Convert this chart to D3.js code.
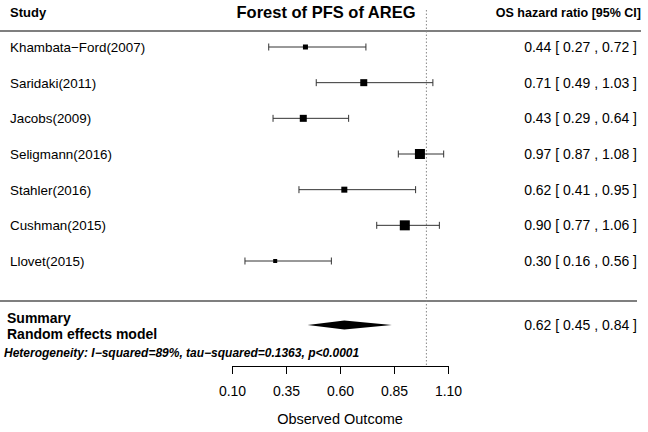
<!DOCTYPE html>
<html><head><meta charset="utf-8">
<script src="https://cdn.jsdelivr.net/npm/d3@7"></script>
<style>body{margin:0;background:#fff}svg{display:block}text{font-family:"Liberation Sans",Arial,sans-serif;fill:#000}</style>
</head><body><svg id="c" width="648" height="432"></svg>
<script>
const studies = ["Khambata−Ford(2007)","Saridaki(2011)","Jacobs(2009)","Seligmann(2016)","Stahler(2016)","Cushman(2015)","Llovet(2015)"];
const estimates = [0.44,0.71,0.43,0.97,0.62,0.90,0.30];
const lower = [0.27,0.49,0.29,0.87,0.41,0.77,0.16];
const upper = [0.72,1.03,0.64,1.08,0.95,1.06,0.56];
const weights = [5,7,7,10,6,10,4];
const summary = {est:0.62, lo:0.45, hi:0.84};
const ticks = [0.10,0.35,0.60,0.85,1.10];
const title = "Forest of PFS of AREG";
const hetText = "Heterogeneity: I−squared=89%, tau−squared=0.1363, p<0.0001";

const svg = d3.select("#c");
const x = d3.scaleLinear().domain([0.10,1.10]).range([232,448]);
const y = d3.scaleLinear().domain([0,6]).range([47,261]);
const f = d3.format(".2f");

// header
svg.append("text").attr("x",10).attr("y",17).attr("font-size",13).attr("font-weight","bold").text("Study");
svg.append("text").attr("x",326).attr("y",18).attr("font-size",16.5).attr("font-weight","bold").attr("text-anchor","middle").text(title);
svg.append("text").attr("x",641).attr("y",17).attr("font-size",12.5).attr("font-weight","bold").attr("text-anchor","end").text("OS hazard ratio [95% CI]");
svg.append("line").attr("x1",0).attr("x2",641).attr("y1",31).attr("y2",31).attr("stroke","#555").attr("stroke-width",1.5);
svg.append("line").attr("x1",0).attr("x2",637).attr("y1",301).attr("y2",301).attr("stroke","#555").attr("stroke-width",1.5);

// reference line
svg.append("line").attr("x1",x(1)).attr("x2",x(1)).attr("y1",10).attr("y2",366).attr("stroke","#888").attr("stroke-width",1).attr("stroke-dasharray","1.5,2");

const rows = svg.append("g").selectAll("g").data(studies).join("g");
rows.append("text").attr("x",10).attr("y",(d,i)=>y(i)+5).attr("font-size",13.4).text(d=>d);
rows.append("line").attr("x1",(d,i)=>x(lower[i])).attr("x2",(d,i)=>x(upper[i])).attr("y1",(d,i)=>y(i)).attr("y2",(d,i)=>y(i)).attr("stroke","#333").attr("stroke-width",1);
rows.append("line").attr("x1",(d,i)=>x(lower[i])).attr("x2",(d,i)=>x(lower[i])).attr("y1",(d,i)=>y(i)-3.5).attr("y2",(d,i)=>y(i)+3.5).attr("stroke","#333").attr("stroke-width",1);
rows.append("line").attr("x1",(d,i)=>x(upper[i])).attr("x2",(d,i)=>x(upper[i])).attr("y1",(d,i)=>y(i)-3.5).attr("y2",(d,i)=>y(i)+3.5).attr("stroke","#333").attr("stroke-width",1);
rows.append("rect").attr("x",(d,i)=>x(estimates[i])-weights[i]/2).attr("y",(d,i)=>y(i)-weights[i]/2)
  .attr("width",(d,i)=>weights[i]).attr("height",(d,i)=>weights[i]).attr("fill","#000");
rows.append("text").attr("x",637).attr("y",(d,i)=>y(i)+5).attr("font-size",14).attr("text-anchor","end")
  .text((d,i)=>`${f(estimates[i])} [ ${f(lower[i])} , ${f(upper[i])} ]`);

// summary
svg.append("text").attr("x",7).attr("y",323).attr("font-size",14).attr("font-weight","bold").text("Summary");
svg.append("text").attr("x",7).attr("y",339).attr("font-size",14).attr("font-weight","bold").text("Random effects model");
const sy = 325;
svg.append("path").attr("d",`M${x(summary.lo)},${sy}L${x(summary.est)},${sy-4.5}L${x(summary.hi)},${sy}L${x(summary.est)},${sy+4.5}Z`).attr("fill","#000");
svg.append("text").attr("x",637).attr("y",sy+5).attr("font-size",14).attr("text-anchor","end")
  .text(`${f(summary.est)} [ ${f(summary.lo)} , ${f(summary.hi)} ]`);
svg.append("text").attr("x",4).attr("y",357).attr("font-size",12).attr("font-weight","bold").attr("font-style","italic").text(hetText);

// axis
const ax = svg.append("g").attr("transform","translate(0,366)")
  .call(d3.axisBottom(x).tickValues(ticks).tickFormat(f).tickSize(8).tickPadding(12).tickSizeOuter(0));
ax.select(".domain").attr("stroke","#000");
ax.selectAll(".tick line").attr("stroke","#000");
ax.selectAll(".tick text").attr("font-size",14).attr("font-family","Liberation Sans, Arial, sans-serif").attr("fill","#000");
svg.append("text").attr("x",340).attr("y",424).attr("font-size",14.5).attr("text-anchor","middle").text("Observed Outcome");
</script></body></html>
